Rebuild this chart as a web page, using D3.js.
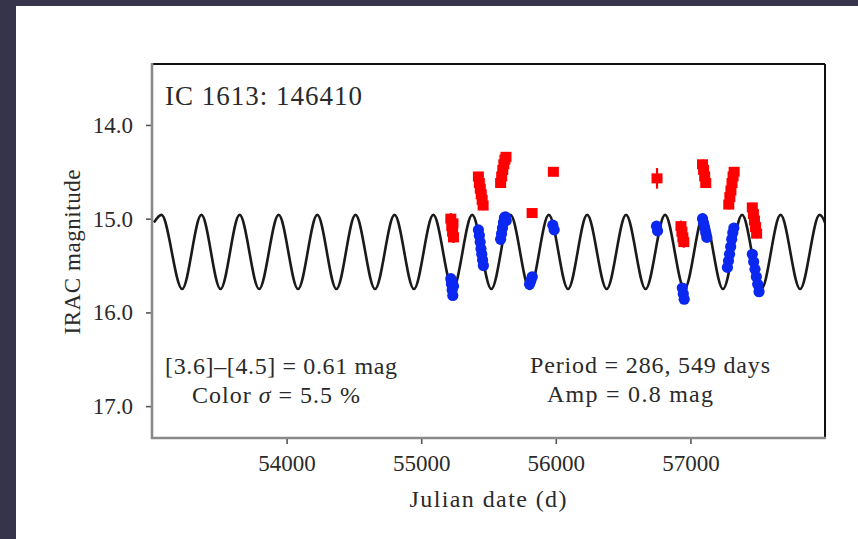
<!DOCTYPE html>
<html><head><meta charset="utf-8">
<script src="https://cdn.jsdelivr.net/npm/d3@7"></script>
<style>
html,body{margin:0;padding:0;background:#36344a;}
svg{display:block;}
</style></head>
<body>
<svg id="chart" width="858" height="539"></svg>
<script>
// ---------------- data ----------------
const title = "IC 1613: 146410";
const xTicks = [54000, 55000, 56000, 57000];
const yTicks = [14.0, 15.0, 16.0, 17.0];

// [3.6] band (blue)
const jd36 = [55220,55225,55230,55235,55240,55228,
  55425,55432,55438,55444,55450,55456,55462,
  55590,55597,55604,55611,55618,55625,55632,
  55805,55815,55825,
  55978,55988,
  56748,56756,
  56940,56947,56954,
  57090,57098,57106,57114,57122,
  57275,57283,57291,57299,57307,57315,57323,
  57460,57470,57480,57490,57500,57510];
const mag36 = [15.64,15.70,15.76,15.82,15.72,15.67,
  15.12,15.18,15.25,15.32,15.38,15.44,15.50,
  15.22,15.16,15.10,15.04,14.99,14.98,15.02,
  15.70,15.66,15.62,
  15.07,15.12,
  15.08,15.13,
  15.74,15.80,15.86,
  15.00,15.05,15.10,15.15,15.20,
  15.52,15.45,15.38,15.30,15.22,15.15,15.10,
  15.38,15.46,15.54,15.62,15.70,15.78];
const err36 = [0.04,0.04,0.04,0.05,0.04,0.04,
  0.04,0.04,0.04,0.04,0.04,0.04,0.04,
  0.04,0.04,0.04,0.04,0.04,0.04,0.04,
  0.04,0.04,0.04,
  0.04,0.04,
  0.05,0.05,
  0.05,0.05,0.05,
  0.04,0.04,0.04,0.04,0.04,
  0.04,0.04,0.04,0.04,0.04,0.04,0.04,
  0.04,0.04,0.04,0.04,0.04,0.04];

// [4.5] band (red)
const jd45 = [55220,55227,55233,55240,55236,
  55425,55432,55439,55446,55453,55460,
  55590,55598,55606,55614,55622,55630,
  55824,
  55982,
  56752,
  56930,56937,56944,56951,
  57090,57098,57106,57114,
  57285,57293,57301,57309,57317,57325,
  57460,57468,57476,57484,57492];
const mag45 = [15.00,15.08,15.14,15.20,15.05,
  14.55,14.62,14.68,14.74,14.80,14.86,
  14.62,14.55,14.48,14.42,14.37,14.34,
  14.94,
  14.50,
  14.57,
  15.08,15.14,15.20,15.25,
  14.42,14.48,14.55,14.62,
  14.85,14.77,14.70,14.62,14.55,14.50,
  14.88,14.95,15.02,15.09,15.16];
const err45 = [0.06,0.06,0.06,0.06,0.06,
  0.05,0.05,0.05,0.05,0.05,0.05,
  0.05,0.05,0.05,0.05,0.05,0.05,
  0.03,
  0.03,
  0.11,
  0.06,0.06,0.06,0.06,
  0.05,0.05,0.05,0.05,
  0.05,0.05,0.05,0.05,0.05,0.05,
  0.05,0.05,0.05,0.05,0.05];

// fitted light curve: start point, read extrema (Julian date) and their magnitudes
const curveStart = [53015, 15.04];
const curvePeakJD = [53070,53367,53651,53941,54228,54512,54802,55090,55379,55663,55948,56233,56522,56812,57099,57384,57670,57960];
const curveTroughJD = [53224,53509,53796,54085,54370,54657,54946,55235,55521,55806,56091,56378,56667,56956,57242,57527,57815,58103];
const curvePeakMag = 14.96;
const curveTroughMag = 15.75;

const textColor = "[3.6]\u2013[4.5] = 0.61 mag";
const textSigma = ["Color ", "\u03C3", " = 5.5 %"];
const textPeriod = "Period = 286, 549 days";
const textAmp = "Amp = 0.8 mag";
const xLabel = "Julian date (d)";
const yLabel = "IRAC magnitude";

// ---------------- drawing ----------------
const svg = d3.select("#chart");
const font = "'Liberation Serif', 'Times New Roman', serif";
const ink = "#2a2a2a";

svg.append("rect").attr("x", 0).attr("y", 0).attr("width", 858).attr("height", 539).attr("fill", "#36344a");
svg.append("rect").attr("x", 16).attr("y", 6).attr("width", 842).attr("height", 533).attr("fill", "#ffffff");

const L = 152, R = 825, T = 64, B = 438;
const x = d3.scaleLinear().domain([53000, 58000]).range([L, R]);
const y = d3.scaleLinear().domain([13.35, 17.34]).range([T, B]);

svg.append("defs").append("clipPath").attr("id", "clip")
  .append("rect").attr("x", L).attr("y", T).attr("width", R - L).attr("height", B - T);

// model curve
const extrema = [curveStart].concat(curvePeakJD.map(d => [d, curvePeakMag]))
  .concat(curveTroughJD.map(d => [d, curveTroughMag]))
  .sort((a, b) => a[0] - b[0]);
const line = d3.line().x(d => x(d[0])).y(d => y(d[1])).curve(d3.curveMonotoneX);
const gPlot = svg.append("g").attr("clip-path", "url(#clip)");
gPlot.append("path").attr("d", line(extrema))
  .attr("fill", "none").attr("stroke", "#1a1a1a").attr("stroke-width", 2.6);

// data points
function drawSeries(jd, mag, err, color, shape) {
  const g = gPlot.append("g");
  jd.forEach((t, i) => {
    g.append("line")
      .attr("x1", x(t)).attr("x2", x(t))
      .attr("y1", y(mag[i] - err[i])).attr("y2", y(mag[i] + err[i]))
      .attr("stroke", color).attr("stroke-width", 2.2);
  });
  if (shape === "square") {
    g.selectAll("rect.m").data(jd).join("rect")
      .attr("x", (d) => x(d) - 5.5).attr("y", (d, i) => y(mag[i]) - 5)
      .attr("width", 11).attr("height", 10).attr("fill", color);
  } else {
    g.selectAll("circle.m").data(jd).join("circle")
      .attr("cx", d => x(d)).attr("cy", (d, i) => y(mag[i]))
      .attr("r", 5.6).attr("fill", color);
  }
}
drawSeries(jd45, mag45, err45, "#ff0000", "square");
drawSeries(jd36, mag36, err36, "#0a28f0", "circle");

// axes
const xAxis = d3.axisBottom(x).tickValues(xTicks).tickFormat(d3.format("d")).tickSize(6).tickPadding(11);
const yAxis = d3.axisLeft(y).tickValues(yTicks).tickFormat(d3.format(".1f")).tickSize(6).tickPadding(13);
const gx = svg.append("g").attr("transform", `translate(0,${B})`).call(xAxis);
const gy = svg.append("g").attr("transform", `translate(${L},0)`).call(yAxis);
[gx, gy].forEach(g => {
  g.select(".domain").remove();
  g.selectAll(".tick line").attr("stroke", "#555").attr("stroke-width", 1.6);
  g.selectAll(".tick text").attr("font-family", font).attr("font-size", 23).attr("fill", ink);
});

// spines
svg.append("line").attr("x1", L).attr("x2", R).attr("y1", T).attr("y2", T).attr("stroke", "#111").attr("stroke-width", 2);
svg.append("line").attr("x1", R).attr("x2", R).attr("y1", T).attr("y2", B).attr("stroke", "#111").attr("stroke-width", 2);
svg.append("line").attr("x1", L).attr("x2", L).attr("y1", T - 1).attr("y2", B + 1).attr("stroke", "#8a8a8a").attr("stroke-width", 2.6);
svg.append("line").attr("x1", L - 1).attr("x2", R + 1).attr("y1", B).attr("y2", B).attr("stroke", "#8a8a8a").attr("stroke-width", 2.6);

// texts
function txt(s, xx, yy, size, anchor) {
  return svg.append("text").attr("x", xx).attr("y", yy).attr("font-family", font)
    .attr("font-size", size).attr("fill", ink).attr("text-anchor", anchor || "start").text(s);
}
txt(title, 165, 105, 27).attr("textLength", 197).attr("lengthAdjust", "spacing");
txt(textColor, 281, 374, 24, "middle").attr("textLength", 232).attr("lengthAdjust", "spacing");
const ts = svg.append("text").attr("x", 276).attr("y", 403).attr("font-family", font)
  .attr("font-size", 24).attr("fill", ink).attr("text-anchor", "middle");
ts.append("tspan").text(textSigma[0]);
ts.append("tspan").attr("font-style", "italic").text(textSigma[1]);
ts.append("tspan").text(textSigma[2]);
ts.attr("textLength", 168).attr("lengthAdjust", "spacing");
txt(textPeriod, 650, 373, 24, "middle").attr("textLength", 240).attr("lengthAdjust", "spacing");
txt(textAmp, 630, 402, 24, "middle").attr("textLength", 166).attr("lengthAdjust", "spacing");
txt(xLabel, 488, 507, 24, "middle").attr("textLength", 157).attr("lengthAdjust", "spacing");
svg.append("text").attr("transform", "translate(80,252) rotate(-90)")
  .attr("font-family", font).attr("font-size", 23).attr("fill", ink)
  .attr("text-anchor", "middle").attr("textLength", 165).attr("lengthAdjust", "spacing").text(yLabel);
</script>
</body></html>
